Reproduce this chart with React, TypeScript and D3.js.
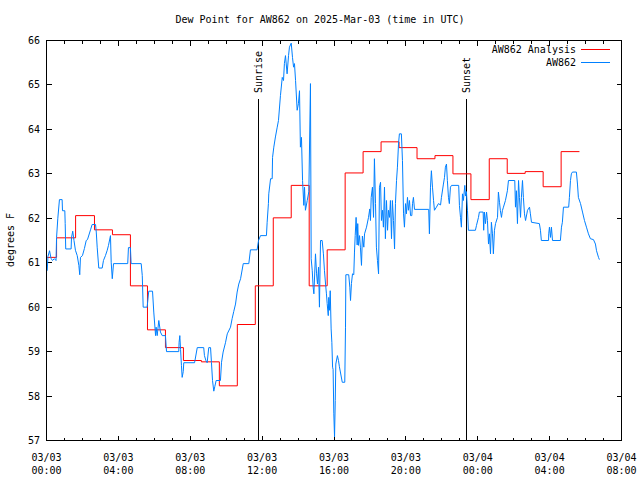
import React from 'react';
import * as d3 from 'd3';

const TITLE = 'Dew Point for AW862 on 2025-Mar-03 (time in UTC)';
const Y_LABEL = 'degrees F';
const SERIES_NAMES = ['AW862 Analysis', 'AW862'];
const SERIES_COLORS = ['#ff0000', '#0080ff'];

const yTicks = [57, 58, 59, 60, 61, 62, 63, 64, 65, 66];
const xTickHours = [0, 4, 8, 12, 16, 20, 24, 28, 32];
const xTickDates = ['03/03', '03/03', '03/03', '03/03', '03/03', '03/03', '03/04', '03/04', '03/04'];
const xTickTimes = ['00:00', '04:00', '08:00', '12:00', '16:00', '20:00', '00:00', '04:00', '08:00'];

// hours since 2025-03-03 00:00 UTC
const sunriseHour = 11.76;
const sunsetHour = 23.32;

const redHours = [0, 0.56, 1.62, 2.67, 3.67, 4.67, 5.62, 6.62, 7.62, 8.62, 9.62, 10.62, 11.62, 12.62, 13.62, 14.62, 15.62, 16.62, 17.62, 18.62, 19.62, 20.62, 21.62, 22.62, 23.62, 24.64, 25.64, 26.64, 27.64, 28.64, 29.66];
const redValues = [61.12, 61.56, 62.06, 61.74, 61.63, 60.48, 59.49, 59.09, 58.8, 58.77, 58.23, 59.61, 60.48, 62.01, 62.74, 60.48, 61.29, 63.02, 63.5, 63.72, 63.59, 63.34, 63.41, 63.0, 62.42, 63.34, 63.01, 63.05, 62.71, 63.5, 63.5];

const blueHours = [
  0.04, 0.08, 0.17, 0.25, 0.33, 0.44, 0.53, 0.56, 0.63, 0.72, 0.87, 0.89, 1.02, 1.04, 1.07, 1.37, 1.39, 1.46, 1.53, 1.61,
  1.71, 1.80, 1.85, 1.89, 2.0, 2.11, 2.21, 2.28, 2.45, 2.54, 2.73, 2.77, 2.82, 2.91, 3.10, 3.17, 3.28, 3.38, 3.45, 3.56,
  3.60, 3.66, 3.73, 4.52, 4.56, 4.67, 4.71, 5.27, 5.33, 5.38, 5.60, 5.69, 5.90, 5.97, 6.07, 6.10, 6.16, 6.25, 6.34, 6.44,
  6.62, 6.68, 7.36, 7.38, 7.42, 7.46, 7.51, 7.55, 7.61, 7.64, 8.24, 8.39, 8.75, 8.79, 8.87, 8.94, 9.03, 9.13, 9.18, 9.24,
  9.31, 9.37, 9.44, 9.68, 9.74, 9.83, 9.96, 10.06, 10.24, 10.33, 10.42, 10.52, 10.61, 10.70, 10.80, 10.95, 11.26, 11.35, 11.72, 11.80,
  11.91, 12.24, 12.28, 12.35, 12.37, 12.47, 12.56, 12.58, 12.65, 12.74, 12.84, 12.91, 13.02, 13.12, 13.19, 13.24, 13.30, 13.39, 13.47, 13.52,
  13.62, 13.69, 13.75, 13.80, 13.86, 13.95, 14.02, 14.08, 14.13, 14.19, 14.25, 14.32, 14.36, 14.41, 14.51, 14.60, 14.69, 14.73, 14.79, 14.84,
  14.88, 14.97, 15.03, 15.08, 15.14, 15.19, 15.25, 15.34, 15.41, 15.47, 15.53, 15.58, 15.62, 15.68, 15.71, 15.75, 15.79, 15.84, 15.88, 15.92,
  15.95, 15.99, 16.03, 16.07, 16.10, 16.19, 16.25, 16.30, 16.46, 16.60, 16.64, 16.66, 16.82, 16.88, 16.92, 16.97, 17.03, 17.10, 17.14, 17.18,
  17.23, 17.29, 17.32, 17.36, 17.42, 17.47, 17.53, 17.58, 17.66, 17.70, 17.81, 17.92, 17.99, 18.03, 18.07, 18.14, 18.20, 18.25, 18.31, 18.36,
  18.42, 18.48, 18.53, 18.59, 18.64, 18.70, 18.75, 18.81, 18.86, 18.92, 18.98, 19.03, 19.09, 19.14, 19.20, 19.25, 19.31, 19.37, 19.42, 19.48,
  19.53, 19.59, 19.64, 19.75, 19.81, 19.87, 19.92, 19.98, 20.03, 20.09, 20.14, 20.20, 20.26, 20.33, 20.37, 20.42, 20.48, 21.27, 21.31, 21.37,
  21.42, 21.48, 21.54, 21.59, 21.70, 21.81, 21.93, 21.98, 22.09, 22.15, 22.20, 22.26, 22.31, 22.37, 22.42, 22.48, 22.54, 22.94, 22.98, 23.04,
  23.09, 23.15, 23.20, 23.28, 23.32, 23.37, 23.43, 23.48, 23.87, 23.93, 24.04, 24.09, 24.30, 24.33, 24.37, 24.43, 24.49, 24.54, 24.60, 24.65,
  24.71, 24.76, 24.82, 24.87, 24.93, 24.99, 25.10, 25.15, 25.21, 25.26, 25.32, 25.37, 25.43, 25.54, 25.65, 25.71, 26.06, 26.10, 26.15, 26.21,
  26.27, 26.32, 26.38, 26.43, 26.49, 26.54, 26.60, 26.66, 26.77, 26.88, 26.93, 26.99, 27.43, 27.49, 27.54, 27.94, 27.95, 27.99, 28.05, 28.10,
  28.16, 28.60, 28.66, 28.71, 28.77, 29.06, 29.10, 29.16, 29.21, 29.27, 29.49, 29.55, 29.60, 29.72, 29.83, 29.94, 30.05, 30.16, 30.27, 30.44,
  30.55, 30.61, 30.72, 30.77
];
const blueValues = [
  60.82, 61.14, 61.27, 61.10, 61.05, 61.09, 61.05, 61.57, 62.0, 62.42, 62.42, 62.17, 62.17, 61.88, 61.31, 61.31, 61.56, 61.71, 61.5, 61.28,
  61.16, 60.94, 60.73, 61.12, 61.16, 61.32, 61.5, 61.52, 61.74, 61.86, 61.86, 61.69, 61.35, 60.88, 60.88, 61.05, 61.16, 61.28, 61.39, 61.61,
  61.01, 60.64, 60.98, 60.98, 61.34, 61.34, 60.98, 60.98, 60.71, 60.0, 60.0, 60.36, 60.36, 59.89, 59.36, 59.55, 59.36, 59.7, 59.44, 59.36,
  59.36, 59.0, 59.0, 59.21, 59.36, 59.05, 58.69, 58.42, 58.55, 58.75, 58.75, 59.09, 59.09, 58.91, 58.8, 58.75, 59.09, 59.09, 58.76, 58.35,
  58.11, 58.22, 58.35, 58.35, 58.76, 58.99, 59.2, 59.4, 59.55, 59.74, 59.9, 60.07, 60.34, 60.52, 60.64, 60.98, 60.98, 61.29, 61.29, 61.5,
  61.61, 61.61, 61.91, 62.33, 62.55, 62.89, 62.89, 63.37, 63.6, 63.83, 64.05, 64.2, 64.76, 65.17, 65.1, 65.48, 65.66, 65.25, 65.66, 65.85,
  65.94, 65.62, 65.4, 65.48, 65.1, 64.43, 64.58, 64.87, 63.6, 63.82, 62.85, 62.29, 62.7, 62.18, 62.4, 62.6, 65.03, 61.09, 60.82, 60.45,
  60.3, 61.2, 60.75, 60.52, 60.9, 60.0, 61.5, 61.5, 61.2, 60.82, 60.52, 60.3, 60.08, 59.81, 60.22, 59.93, 60.37, 59.51, 59.21, 58.65,
  58.6, 57.6, 57.08, 57.9, 58.72, 58.91, 58.8, 58.66, 58.31, 58.31, 59.55, 60.73, 60.73, 60.45, 60.15, 60.53, 60.75, 60.73, 61.24, 61.61,
  62.02, 61.4, 61.88, 61.39, 61.61, 61.35, 60.94, 61.6, 61.35, 61.65, 61.8, 62.02, 62.21, 61.95, 62.47, 62.7, 62.02, 63.34, 62.33, 61.35,
  61.05, 60.75, 62.7, 62.81, 61.95, 62.18, 61.8, 62.7, 61.54, 62.4, 61.73, 62.18, 62.02, 62.4, 61.54, 62.4, 61.95, 61.31, 62.33, 62.85,
  63.15, 63.67, 63.9, 63.9, 63.3, 62.1, 61.8, 62.33, 62.1, 62.47, 62.18, 62.4, 62.06, 62.06, 62.33, 62.47, 62.2, 62.2, 61.65, 62.7,
  63.07, 62.7, 62.4, 62.18, 62.25, 62.33, 62.3, 62.47, 62.77, 62.92, 63.15, 63.22, 62.85, 62.47, 62.33, 62.7, 62.74, 62.74, 62.29, 62.02,
  61.8, 62.55, 62.4, 62.74, 62.5, 62.6, 62.17, 61.73, 61.73, 61.84, 62.02, 62.14, 62.14, 61.73, 62.14, 61.88, 62.14, 61.95, 61.42, 61.65,
  61.2, 61.91, 61.65, 61.2, 61.73, 61.88, 62.02, 62.59, 62.36, 62.17, 62.02, 62.17, 62.25, 62.4, 62.62, 62.85, 62.85, 62.25, 62.62, 61.88,
  62.85, 62.47, 62.02, 62.47, 62.85, 62.47, 62.1, 61.95, 62.18, 62.25, 62.1, 61.91, 61.88, 61.73, 61.5, 61.5, 61.65, 61.8, 61.57, 61.8,
  61.5, 61.5, 61.8, 61.91, 62.25, 62.25, 62.47, 62.85, 63.0, 63.04, 63.04, 62.77, 62.47, 62.33, 62.14, 61.95, 61.8, 61.65, 61.54, 61.52,
  61.42, 61.27, 61.12, 61.07
];

const FONT = '"DejaVu Sans Mono", "Liberation Mono", monospace';

export default function App() {
  const left = 46, right = 621, top = 40, bottom = 440;
  const x = d3.scaleLinear().domain([0, 32]).range([left + 0.5, right + 0.5]);
  const y = d3.scaleLinear().domain([57, 66]).range([bottom + 0.5, top + 0.5]);

  const redData: [number, number][] = redHours.map((h, i) => [h, redValues[i]]);
  const blueData: [number, number][] = blueHours.map((h, i) => [h, blueValues[i]]);

  const stepLine = d3.line<[number, number]>().x(d => x(d[0])).y(d => y(d[1])).curve(d3.curveStepAfter);
  const line = d3.line<[number, number]>().x(d => x(d[0])).y(d => y(d[1]));

  const minorHours = d3.range(0, 33, 1);

  const textStyle: React.CSSProperties = { fontFamily: FONT, fontSize: 10 };

  return (
    <svg width={640} height={480} style={{ position: 'absolute', left: 0, top: 0, background: '#fff' }}>
      <rect x={0} y={0} width={640} height={480} fill="#fff" />
      <text x={320} y={23} textAnchor="middle" style={textStyle} fill="#000">{TITLE}</text>

      <g stroke="#000" strokeWidth={1} shapeRendering="crispEdges">
        {minorHours.map(h => {
          const major = h % 4 === 0;
          const len = major ? 5 : 3;
          return (
            <g key={'xt' + h}>
              <line x1={x(h)} x2={x(h)} y1={bottom + 0.5} y2={bottom + 0.5 - len} />
              <line x1={x(h)} x2={x(h)} y1={top + 0.5} y2={top + 0.5 + len} />
            </g>
          );
        })}
        {yTicks.map(v => (
          <g key={'yt' + v}>
            <line x1={left + 0.5} x2={left + 0.5 + 5} y1={y(v)} y2={y(v)} />
            <line x1={right + 0.5} x2={right + 0.5 - 5} y1={y(v)} y2={y(v)} />
          </g>
        ))}
      </g>

      {yTicks.map(v => (
        <text key={'yl' + v} x={40} y={y(v)} dy="0.35em" textAnchor="end" style={textStyle} fill="#000">{v}</text>
      ))}
      {xTickHours.map((h, i) => (
        <g key={'xl' + h}>
          <text x={x(h)} y={457} dy="0.35em" textAnchor="middle" style={textStyle} fill="#000">{xTickDates[i]}</text>
          <text x={x(h)} y={470} dy="0.35em" textAnchor="middle" style={textStyle} fill="#000">{xTickTimes[i]}</text>
        </g>
      ))}

      <text transform={`translate(10,${(top + bottom) / 2}) rotate(-90)`} dy="0.35em" textAnchor="middle" style={textStyle} fill="#000">{Y_LABEL}</text>

      {[{ h: sunriseHour, label: 'Sunrise' }, { h: sunsetHour, label: 'Sunset' }].map(s => (
        <g key={s.label}>
          <line x1={Math.round(x(s.h)) + 0.5} x2={Math.round(x(s.h)) + 0.5} y1={99} y2={bottom} stroke="#000" strokeWidth={1} shapeRendering="crispEdges" />
          <text transform={`translate(${Math.round(x(s.h)) + 0.5},93) rotate(-90)`} dy="0.35em" textAnchor="start" style={textStyle} fill="#000">{s.label}</text>
        </g>
      ))}

      <path d={stepLine(redData) || ''} fill="none" stroke={SERIES_COLORS[0]} strokeWidth={1} />
      <path d={line(blueData) || ''} fill="none" stroke={SERIES_COLORS[1]} strokeWidth={1} />

      {SERIES_NAMES.map((name, i) => (
        <g key={name}>
          <text x={576} y={49.5 + i * 12.5} dy="0.35em" textAnchor="end" style={textStyle} fill="#000">{name}</text>
          <line x1={581} x2={610} y1={49.5 + i * 12.5} y2={49.5 + i * 12.5} stroke={SERIES_COLORS[i]} strokeWidth={1} shapeRendering="crispEdges" />
        </g>
      ))}

      <rect x={left + 0.5} y={top + 0.5} width={right - left} height={bottom - top} fill="none" stroke="#000" strokeWidth={1} shapeRendering="crispEdges" />
    </svg>
  );
}
